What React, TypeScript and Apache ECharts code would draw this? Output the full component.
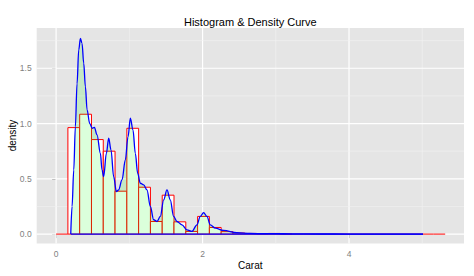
import React, { useEffect, useRef } from 'react';
import * as echarts from 'echarts';

// Histogram bin edges (Carat) and bar heights (density)
const binEdges = [0, 0.161, 0.322, 0.483, 0.644, 0.805, 0.966, 1.127, 1.288, 1.449, 1.61, 1.771, 1.932, 2.093, 2.254, 2.415, 2.576, 2.737, 2.898, 3.059, 3.22, 3.381, 3.542, 3.703, 3.864, 4.025, 4.186, 4.347, 4.508, 4.669, 4.83, 4.991, 5.152, 5.313];
const binDensity = [0, 0.963, 1.084, 0.855, 0.75, 0.388, 0.957, 0.424, 0.114, 0.352, 0.111, 0.024, 0.16, 0.06, 0.022, 0.01, 0.006, 0.003, 0.006, 0.001, 0, 0, 0, 0, 0, 0, 0, 0, 0, 0, 0, 0, 0];

// Density curve
const densityX = [0.2, 0.218, 0.241, 0.263, 0.286, 0.309, 0.332, 0.354, 0.377, 0.4, 0.423, 0.459, 0.495, 0.523, 0.559, 0.605, 0.627, 0.65, 0.686, 0.718, 0.75, 0.786, 0.823, 0.854, 0.9, 0.945, 0.982, 1.014, 1.05, 1.082, 1.114, 1.15, 1.196, 1.241, 1.287, 1.332, 1.378, 1.423, 1.469, 1.514, 1.559, 1.605, 1.65, 1.719, 1.787, 1.855, 1.923, 1.969, 2.014, 2.06, 2.105, 2.174, 2.287, 2.469, 2.65, 2.85, 3.0, 3.2, 3.6, 4.0, 4.5, 5.01];
const densityY = [0, 0.25, 0.58, 0.97, 1.36, 1.665, 1.77, 1.725, 1.545, 1.333, 1.123, 1.0, 0.957, 0.966, 0.897, 0.73, 0.58, 0.52, 0.73, 0.867, 0.76, 0.52, 0.385, 0.4, 0.49, 0.67, 0.88, 1.048, 0.94, 0.73, 0.55, 0.46, 0.445, 0.4, 0.25, 0.13, 0.114, 0.16, 0.31, 0.4, 0.31, 0.16, 0.114, 0.084, 0.039, 0.024, 0.084, 0.16, 0.195, 0.16, 0.084, 0.054, 0.033, 0.012, 0.006, 0.004, 0.004, 0.002, 0.001, 0.0005, 0.0002, 0];

// Axis ticks / gridlines
const xMajorTicks = [0, 2, 4];
const xMinorTicks = [1, 3, 5];
const yMajorTicks = [0, 0.5, 1.0, 1.5];
const yMinorTicks = [0.25, 0.75, 1.25, 1.75];

const FONT = '"Liberation Sans", Arial, sans-serif';

export default function App() {
  const ref = useRef<HTMLDivElement>(null);

  useEffect(() => {
    if (!ref.current) return;
    const chart = echarts.init(ref.current, null, { renderer: 'svg' });

    const histData = binDensity.map((h, i) => [binEdges[i], binEdges[i + 1], h]);
    const densData = densityX.map((x, i) => [x, densityY[i]]);
    const xGridData = [
      ...xMajorTicks.map((v) => [v, 0, 1]),
      ...xMinorTicks.map((v) => [v, 0, 0]),
    ];
    const yGridData = [
      ...yMajorTicks.map((v) => [0, v, 1]),
      ...yMinorTicks.map((v) => [0, v, 0]),
    ];

    const option: any = {
      animation: false,
      grid: {
        left: 36.7,
        top: 28,
        width: 427.3,
        height: 215.5,
        show: true,
        backgroundColor: '#e5e5e5',
        borderWidth: 0,
        containLabel: false,
        outerBoundsMode: 'none',
      },
      xAxis: {
        type: 'value',
        min: -0.265,
        max: 5.57,
        axisLine: { show: false },
        axisTick: {
          show: true,
          length: 4,
          customValues: xMajorTicks,
          lineStyle: { color: '#7f7f7f', width: 1 },
        },
        axisLabel: {
          customValues: xMajorTicks,
          color: '#7f7f7f',
          fontSize: 8.5,
          fontFamily: FONT,
          margin: 6,
        },
        splitLine: { show: false },
      },
      yAxis: {
        type: 'value',
        min: -0.085,
        max: 1.864,
        axisLine: { show: false },
        axisTick: {
          show: true,
          length: 4,
          customValues: yMajorTicks,
          lineStyle: { color: '#7f7f7f', width: 1 },
        },
        axisLabel: {
          customValues: yMajorTicks,
          color: '#7f7f7f',
          fontSize: 8.5,
          fontFamily: FONT,
          margin: 5,
          formatter: (v: number) => v.toFixed(1),
        },
        splitLine: { show: false },
      },
      graphic: [
        {
          type: 'text',
          x: 250.3,
          y: 21.7,
          style: {
            text: 'Histogram & Density Curve',
            fill: '#000',
            font: `11px ${FONT}`,
            textAlign: 'center',
            textVerticalAlign: 'middle',
          },
        },
        {
          type: 'text',
          x: 250.3,
          y: 265,
          style: {
            text: 'Carat',
            fill: '#000',
            font: `10px ${FONT}`,
            textAlign: 'center',
            textVerticalAlign: 'middle',
          },
        },
        {
          type: 'text',
          x: 12.7,
          y: 135.5,
          rotation: Math.PI / 2,
          style: {
            text: 'density',
            fill: '#000',
            font: `10px ${FONT}`,
            textAlign: 'center',
            textVerticalAlign: 'middle',
          },
        },
      ],
      series: [
        {
          type: 'custom',
          name: 'xgrid',
          z: 1,
          silent: true,
          data: xGridData,
          encode: { x: 0, y: 1 },
          renderItem: (params: any, api: any) => {
            const cs = params.coordSys;
            const p = api.coord([api.value(0), 0]);
            const major = api.value(2) === 1;
            return {
              type: 'line',
              shape: { x1: p[0], y1: cs.y, x2: p[0], y2: cs.y + cs.height },
              style: { stroke: major ? '#ffffff' : '#f2f2f2', lineWidth: major ? 1.2 : 0.6 },
            };
          },
        },
        {
          type: 'custom',
          name: 'ygrid',
          z: 1,
          silent: true,
          data: yGridData,
          encode: { x: 0, y: 1 },
          renderItem: (params: any, api: any) => {
            const cs = params.coordSys;
            const p = api.coord([0, api.value(1)]);
            const major = api.value(2) === 1;
            return {
              type: 'line',
              shape: { x1: cs.x, y1: p[1], x2: cs.x + cs.width, y2: p[1] },
              style: { stroke: major ? '#ffffff' : '#f2f2f2', lineWidth: major ? 1.2 : 0.6 },
            };
          },
        },
        {
          type: 'custom',
          name: 'histogram',
          z: 2,
          silent: true,
          data: histData,
          encode: { x: [0, 1], y: 2 },
          renderItem: (params: any, api: any) => {
            const x0 = api.value(0);
            const x1 = api.value(1);
            const h = api.value(2);
            const pTop = api.coord([x0, h]);
            const pBot = api.coord([x1, 0]);
            if (h === 0) {
              return {
                type: 'line',
                shape: { x1: pTop[0], y1: pBot[1], x2: pBot[0], y2: pBot[1] },
                style: { stroke: '#ff0000', lineWidth: 1 },
              };
            }
            return {
              type: 'rect',
              shape: { x: pTop[0], y: pTop[1], width: pBot[0] - pTop[0], height: pBot[1] - pTop[1] },
              style: { fill: '#ffffff', stroke: '#ff0000', lineWidth: 1 },
            };
          },
        },
        {
          type: 'line',
          name: 'density',
          z: 3,
          silent: true,
          data: densData,
          showSymbol: false,
          symbol: 'none',
          smooth: 0.35,
          smoothMonotone: 'x',
          lineStyle: { color: '#0000ff', width: 1.3 },
          areaStyle: { color: 'rgba(0,255,0,0.2)' },
        },
        {
          type: 'line',
          name: 'densityBase',
          z: 3,
          silent: true,
          data: [
            [densityX[0], 0],
            [densityX[densityX.length - 1], 0],
          ],
          showSymbol: false,
          symbol: 'none',
          lineStyle: { color: '#0000ff', width: 1.3 },
        },
      ],
    };

    chart.setOption(option);
    return () => chart.dispose();
  }, []);

  return (
    <div
      ref={ref}
      style={{ position: 'fixed', left: 0, top: 0, width: 474, height: 276, background: '#ffffff' }}
    />
  );
}
